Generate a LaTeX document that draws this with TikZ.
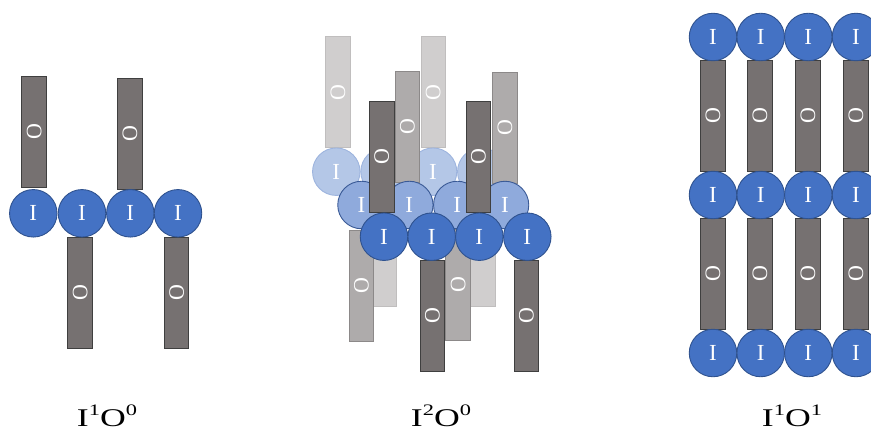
\documentclass[tikz,border=0pt]{standalone}
\usepackage{fontspec}
\setmainfont{Liberation Serif}
\definecolor{cblue}{HTML}{4472C4}
\definecolor{cblueD}{HTML}{2F528F}
\definecolor{cgray}{HTML}{767171}
\definecolor{cgrayD}{HTML}{3F3F3F}
\definecolor{mblue}{HTML}{8FAADC}
\definecolor{mblueD}{HTML}{3A5A96}
\definecolor{mgray}{HTML}{AEABAB}
\definecolor{mgrayD}{HTML}{8C8989}
\definecolor{lblue}{HTML}{B4C7E7}
\definecolor{lblueD}{HTML}{9DB4DE}
\definecolor{lgray}{HTML}{D0CECE}
\definecolor{lgrayD}{HTML}{C0BEBE}
\newcommand{\supdig}[1]{\raisebox{11.5pt}{\fontsize{16}{16}\selectfont #1}}
\newcommand{\capt}[2]{\scalebox{1.4}[1]{I\supdig{#1}O\supdig{#2}}}
\tikzset{
  ball/.style={circle, minimum size=47.5pt, inner sep=0pt, line width=0.9pt,
    text=white, font=\fontsize{23}{24}\selectfont},
  bar/.style={rectangle, rotate=90, minimum width=111pt, minimum height=24.5pt,
    inner sep=0pt, line width=1pt, text=white, font=\fontsize{22}{24}\selectfont},
  dk/.style={fill=cblue, draw=cblueD},
  dkbar/.style={fill=cgray, draw=cgrayD},
  md/.style={fill=mblue, draw=mblueD},
  mdbar/.style={fill=mgray, draw=mgrayD},
  lt/.style={fill=lblue, draw=lblueD},
  ltbar/.style={fill=lgray, draw=lgrayD},
  caption/.style={anchor=base, inner sep=0pt, font=\fontsize{25.5}{30}\selectfont}
}
\begin{document}
\begin{tikzpicture}[x=1pt,y=-1pt]
\useasboundingbox (0,0) rectangle (871,434);

% ---------- Panel 1: I1O0 ----------
\node[bar,dkbar] (a-t1) at (34.2,132) {O};
\node[bar,dkbar] (a-t2) at (130,133.7) {O};
\node[bar,dkbar] (a-b1) at (80.2,292.5) {O};
\node[bar,dkbar] (a-b2) at (176.7,292.5) {O};
\node[ball,dk] (a-c1) at (33.3,213.3) {I};
\node[ball,dk] (a-c2) at (82,213.3) {I};
\node[ball,dk] (a-c3) at (130.3,213.3) {I};
\node[ball,dk] (a-c4) at (178,213.3) {I};
\node[caption] (cap1) at (107,426.7) {\capt{1}{0}};

% ---------- Panel 2: I2O0 ----------
% back layer
\node[bar,ltbar] (l-t1) at (338,92.2) {O};
\node[bar,ltbar] (l-t2) at (433.3,92.2) {O};
\node[bar,ltbar] (l-b1) at (384.6,251) {O};
\node[bar,ltbar] (l-b2) at (483,251) {O};
\node[ball,lt] (l-c1) at (336.3,171.7) {I};
\node[ball,lt] (l-c2) at (384.6,171.7) {I};
\node[ball,lt] (l-c3) at (433,171.7) {I};
\node[ball,lt] (l-c4) at (481.3,171.7) {I};
% middle layer
\node[bar,mdbar] (m-t1) at (407.5,126.5) {O};
\node[bar,mdbar] (m-t2) at (505,127.5) {O};
\node[bar,mdbar] (m-b1) at (361.5,285.5) {O};
\node[bar,mdbar] (m-b2) at (458.2,284.8) {O};
\node[ball,md] (m-c1) at (361.5,205) {I};
\node[ball,md] (m-c2) at (409.3,205) {I};
\node[ball,md] (m-c3) at (457.3,205) {I};
\node[ball,md] (m-c4) at (505,205) {I};
% front layer
\node[bar,dkbar] (f-t1) at (381.8,157) {O};
\node[bar,dkbar] (f-t2) at (478.5,157) {O};
\node[bar,dkbar] (f-b1) at (432.5,315.8) {O};
\node[bar,dkbar] (f-b2) at (526.5,315.8) {O};
\node[ball,dk] (f-c1) at (384,236.7) {I};
\node[ball,dk] (f-c2) at (431.7,236.7) {I};
\node[ball,dk] (f-c3) at (479.3,236.7) {I};
\node[ball,dk] (f-c4) at (527.3,236.7) {I};
\node[caption] (cap2) at (441,426.7) {\capt{2}{0}};

% ---------- Panel 3: I1O1 ----------
\foreach \x/\i in {713/1,760/2,808/3,856/4}{
  \node[bar,dkbar] (c-t\i) at (\x,115.5) {O};
  \node[bar,dkbar] (c-b\i) at (\x,274) {O};
}
\foreach \x/\i in {713/1,760.7/2,808.3/3,856/4}{
  \node[ball,dk] (c-r1\i) at (\x,37) {I};
  \node[ball,dk] (c-r2\i) at (\x,195) {I};
  \node[ball,dk] (c-r3\i) at (\x,353) {I};
}
\node[caption] (cap3) at (792,426.7) {\capt{1}{1}};
\end{tikzpicture}
\end{document}
